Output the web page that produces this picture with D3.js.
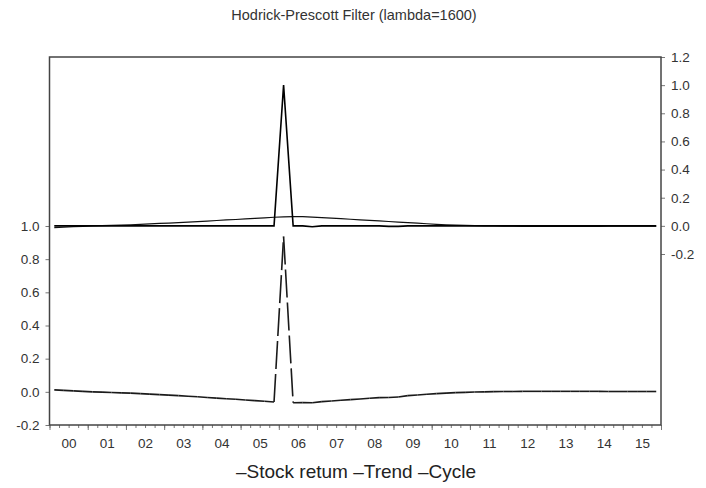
<!DOCTYPE html>
<html>
<head>
<meta charset="utf-8">
<script src="https://cdnjs.cloudflare.com/ajax/libs/d3/7.8.5/d3.min.js"></script>
<style>
    body { margin: 0; background: #fff; }
    svg { display: block; font-family: "Liberation Sans", Arial, sans-serif; }
</style>
</head>
<body>
<svg id="chart" width="706" height="488"></svg>
<script>
// Quarterly data, 2000Q1 - 2015Q4 (one row of four values per year)
var first_year = 2000;
var year_labels = ["00", "01", "02", "03", "04", "05", "06", "07",
                   "08", "09", "10", "11", "12", "13", "14", "15"];

var stock_return = [
    0, 0, 0, 0,   0, 0, 0, 0,   0, 0, 0, 0,   0, 0, 0, 0,
    0, 0, 0, 0,   0, 0, 0, 0,   1.0, 0, 0, -0.006,   0, 0, 0, 0,
    0, 0, 0, -0.004,   -0.004, 0, 0, 0,   0, 0, 0, 0,   0, 0, 0, 0,
    0, 0, 0, 0,   0, 0, 0, 0,   0, 0, 0, 0,   0, 0, 0, 0
];

var trend = [
    -0.012, -0.009, -0.006, -0.003,   0.000, 0.002, 0.004, 0.006,
    0.008, 0.011, 0.014, 0.017,       0.020, 0.023, 0.027, 0.030,
    0.034, 0.038, 0.042, 0.045,       0.049, 0.053, 0.057, 0.061,
    0.064, 0.066, 0.065, 0.062,       0.059, 0.055, 0.051, 0.047,
    0.043, 0.039, 0.035, 0.031,       0.027, 0.023, 0.019, 0.015,
    0.011, 0.008, 0.005, 0.003,       0.001, 0.000, -0.001, -0.002,
    -0.002, -0.003, -0.003, -0.003,   -0.003, -0.003, -0.003, -0.003,
    -0.003, -0.003, -0.002, -0.002,   -0.002, -0.002, -0.002, -0.002
];

var cycle = [
    0.012, 0.009, 0.006, 0.003,       0.000, -0.002, -0.004, -0.006,
    -0.008, -0.011, -0.014, -0.017,   -0.020, -0.023, -0.027, -0.030,
    -0.034, -0.038, -0.042, -0.045,   -0.049, -0.053, -0.057, -0.061,
    0.936, -0.066, -0.065, -0.066,    -0.059, -0.055, -0.051, -0.047,
    -0.043, -0.039, -0.035, -0.034,   -0.031, -0.023, -0.019, -0.015,
    -0.011, -0.008, -0.005, -0.003,   -0.001, 0.000, 0.001, 0.002,
    0.002, 0.003, 0.003, 0.003,       0.003, 0.003, 0.003, 0.003,
    0.003, 0.003, 0.002, 0.002,       0.002, 0.002, 0.002, 0.002
];

var right_ticks = [-0.2, 0.0, 0.2, 0.4, 0.6, 0.8, 1.0, 1.2];
var left_ticks = [-0.2, 0.0, 0.2, 0.4, 0.6, 0.8, 1.0];
var legend_items = ["Stock retum", "Trend", "Cycle"];

draw_chart();

function draw_chart() {
    var svg = d3.select("#chart");
    var frame = {left: 49.5, right: 661, top: 57, bottom: 425};
    var n_years = year_labels.length;

    // quarter mid-points, in fractional years
    function quarter_time(i) { return first_year + i / 4 + 0.125; }

    var x = d3.scaleLinear()
        .domain([first_year, first_year + n_years])
        .range([frame.left, frame.right]);

    // series + trend use the right axis (upper part), cycle the left one (lower part)
    var y_right = d3.scaleLinear().domain([-0.2, 1.2]).range([254, frame.top]);
    var y_left = d3.scaleLinear().domain([-0.2, 1.0]).range([frame.bottom, 226]);

    svg.append("text")
        .attr("x", 354).attr("y", 20)
        .attr("text-anchor", "middle")
        .attr("font-size", 14.5)
        .attr("fill", "#333")
        .text("Hodrick-Prescott Filter (lambda=1600)");

    // bottom axis: quarterly minor ticks, yearly major ticks, labels mid-year
    var quarter_edges = d3.range(n_years * 4 + 1).map(function(i) { return first_year + i / 4; });
    var year_edges = d3.range(n_years + 1).map(function(i) { return first_year + i; });
    var year_mids = d3.range(n_years).map(function(i) { return first_year + i + 0.5; });

    var minor = svg.append("g")
        .attr("transform", "translate(0," + frame.bottom + ")")
        .call(d3.axisBottom(x).tickValues(quarter_edges).tickSize(3).tickFormat(""));
    var major = svg.append("g")
        .attr("transform", "translate(0," + frame.bottom + ")")
        .call(d3.axisBottom(x).tickValues(year_edges).tickSize(5).tickFormat(""));
    var labels = svg.append("g")
        .attr("transform", "translate(0," + frame.bottom + ")")
        .call(d3.axisBottom(x).tickValues(year_mids).tickSize(0).tickPadding(13)
            .tickFormat(function(d, i) { return year_labels[i]; }));

    var right_axis = svg.append("g")
        .attr("transform", "translate(" + frame.right + ",0)")
        .call(d3.axisRight(y_right).tickValues(right_ticks).tickSize(4).tickPadding(6)
            .tickFormat(d3.format(".1f")));

    var left_axis = svg.append("g")
        .attr("transform", "translate(" + frame.left + ",0)")
        .call(d3.axisLeft(y_left).tickValues(left_ticks).tickSize(4).tickPadding(6)
            .tickFormat(d3.format(".1f")));

    [minor, major, labels, right_axis, left_axis].forEach(function(g) {
        g.select(".domain").remove();
        g.selectAll("line").attr("stroke", "#777");
        g.selectAll("text").attr("font-size", 13.5).attr("fill", "#333")
            .attr("font-family", "Liberation Sans, Arial, sans-serif");
    });
    // plain hyphen for negatives, as in the original
    right_axis.selectAll("text").text(function(d) { return d3.format(".1f")(d).replace("\u2212", "-"); });
    left_axis.selectAll("text").text(function(d) { return d3.format(".1f")(d).replace("\u2212", "-"); });

    // frame
    svg.append("rect")
        .attr("x", frame.left).attr("y", frame.top)
        .attr("width", frame.right - frame.left)
        .attr("height", frame.bottom - frame.top)
        .attr("fill", "none")
        .attr("stroke", "#444")
        .attr("stroke-width", 1.5);

    var line_right = d3.line()
        .x(function(d, i) { return x(quarter_time(i)); })
        .y(function(d) { return y_right(d); });

    svg.append("path")
        .datum(trend)
        .attr("d", line_right)
        .attr("fill", "none")
        .attr("stroke", "#111")
        .attr("stroke-width", 1.2);

    svg.append("path")
        .datum(stock_return)
        .attr("d", line_right)
        .attr("fill", "none")
        .attr("stroke", "#000")
        .attr("stroke-width", 1.6);

    // cycle: dashed, the dash pattern restarts at every data point
    var cycle_segments = d3.pairs(cycle.map(function(v, i) { return [quarter_time(i), v]; }));
    svg.append("g")
        .selectAll("line")
        .data(cycle_segments)
        .enter().append("line")
        .attr("x1", function(d) { return x(d[0][0]); })
        .attr("y1", function(d) { return y_left(d[0][1]); })
        .attr("x2", function(d) { return x(d[1][0]); })
        .attr("y2", function(d) { return y_left(d[1][1]); })
        .attr("stroke", "#1a1a1a")
        .attr("stroke-width", 1.6)
        .attr("stroke-dasharray", "28,5");

    // legend
    svg.append("text")
        .attr("x", 356).attr("y", 478)
        .attr("text-anchor", "middle")
        .attr("font-size", 19)
        .attr("fill", "#222")
        .text(legend_items.map(function(s) { return "\u2013" + s; }).join(" "));
}
</script>
</body>
</html>
